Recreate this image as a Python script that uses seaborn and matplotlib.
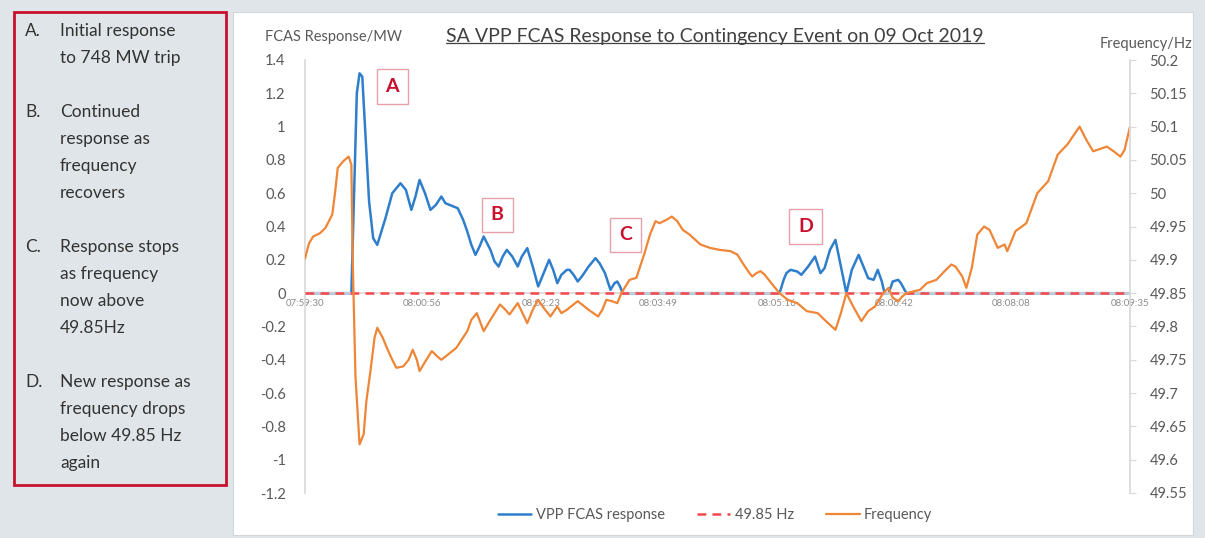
import numpy as np
import pandas as pd
import seaborn as sns
import matplotlib.pyplot as plt
from matplotlib.patches import Rectangle
from matplotlib.lines import Line2D
from matplotlib.ticker import FuncFormatter, MultipleLocator

# times are seconds after 07:59:30
resp_t = [0, 34, 36, 38, 40, 42, 44, 47, 50, 53, 59, 64, 70, 74, 78, 81, 84, 88, 92, 96,
          100, 103, 106, 112, 116, 119, 122, 125, 128, 131, 136, 139, 142, 145, 148,
          152, 156, 159, 163, 167, 171, 175, 179, 182, 185, 188, 192, 194, 197, 200,
          203, 208, 213, 216, 220, 224, 227, 229, 231, 233,
          348, 351, 353, 356, 361, 364, 369, 374, 378, 381, 385, 389, 392, 397, 401,
          406, 409, 413, 417, 420, 423, 425, 428, 431, 435, 437, 441, 605]
resp_mw = [0, 0, 0.6, 1.2, 1.32, 1.3, 1.0, 0.55, 0.33, 0.29, 0.45, 0.60, 0.66, 0.62, 0.50,
           0.58, 0.68, 0.60, 0.50, 0.53, 0.58, 0.54, 0.53, 0.51, 0.44, 0.37, 0.29, 0.23,
           0.28, 0.34, 0.26, 0.19, 0.16, 0.22, 0.26, 0.22, 0.16, 0.22, 0.27, 0.16, 0.04,
           0.12, 0.20, 0.14, 0.06, 0.11, 0.14, 0.14, 0.11, 0.07, 0.10, 0.16, 0.21, 0.18,
           0.12, 0.02, 0.06, 0.07, 0.04, 0,
           0, 0.08, 0.12, 0.14, 0.13, 0.11, 0.16, 0.22, 0.12, 0.15, 0.26, 0.32, 0.20, 0,
           0.14, 0.23, 0.17, 0.09, 0.08, 0.14, 0.07, 0, 0, 0.07, 0.08, 0.06, 0, 0]

freq_t = [0, 3, 6, 11, 15, 20, 22, 24, 28, 32, 34, 35, 37, 40, 43, 45, 48, 51, 53, 57,
          60, 64, 67, 72, 76, 79, 82, 84, 89, 93, 97, 100, 105, 111, 119, 122, 126, 131,
          136, 143, 147, 150, 156, 163, 167, 171, 175, 180, 185, 188, 192, 200, 208, 215,
          218, 221, 225, 229, 232, 238, 243, 249, 253, 257, 260, 265, 269, 273, 277, 282,
          290, 297, 304, 312, 317, 321, 326, 328, 331, 334, 337, 342, 348, 354, 361, 368,
          376, 382, 389, 393, 397, 402, 408, 413, 418, 424, 428, 431, 435, 438, 441, 451,
          456, 463, 469, 474, 477, 482, 485, 489, 493, 498, 502, 508, 513, 515, 521, 529,
          537, 545, 552, 559, 568, 573, 578, 588, 593, 598, 601, 605]
freq_hz = [49.902, 49.925, 49.935, 49.940, 49.948, 49.968, 50.000, 50.038, 50.048, 50.055,
           50.043, 49.900, 49.725, 49.623, 49.638, 49.688, 49.733, 49.783, 49.798, 49.783,
           49.768, 49.750, 49.738, 49.740, 49.750, 49.765, 49.750, 49.733, 49.750, 49.763,
           49.755, 49.750, 49.758, 49.768, 49.793, 49.810, 49.820, 49.793, 49.810, 49.833,
           49.825, 49.818, 49.835, 49.805, 49.825, 49.840, 49.828, 49.815, 49.830, 49.820,
           49.825, 49.838, 49.825, 49.815, 49.825, 49.840, 49.838, 49.835, 49.850, 49.870,
           49.873, 49.910, 49.938, 49.958, 49.955, 49.960, 49.965, 49.958, 49.945, 49.938,
           49.923, 49.918, 49.915, 49.913, 49.908, 49.895, 49.880, 49.875, 49.880, 49.883,
           49.878, 49.865, 49.850, 49.840, 49.835, 49.823, 49.820, 49.808, 49.795, 49.820,
           49.850, 49.830, 49.808, 49.823, 49.830, 49.850, 49.858, 49.843, 49.838, 49.845,
           49.850, 49.855, 49.865, 49.870, 49.883, 49.893, 49.890, 49.875, 49.858, 49.888,
           49.938, 49.950, 49.945, 49.918, 49.923, 49.913, 49.943, 49.955, 50.000, 50.018,
           50.058, 50.073, 50.100, 50.080, 50.063, 50.070, 50.063, 50.055, 50.065, 50.100]

thresh_t = [0, 605]
thresh_hz = [49.85, 49.85]

tick_labels = ['07:59:30', '08:00:56', '08:02:23', '08:03:49',
               '08:05:16', '08:06:42', '08:08:08', '08:09:35']

notes = [('A.', ['Initial response', 'to 748 MW trip']),
         ('B.', ['Continued', 'response as', 'frequency', 'recovers']),
         ('C.', ['Response stops', 'as frequency', 'now above', '49.85Hz']),
         ('D.', ['New response as', 'frequency drops', 'below 49.85 Hz', 'again'])]

# marker letters and where they sit (seconds, MW)
markers = [('A', 64, 1.24), ('B', 141, 0.47), ('C', 235, 0.35), ('D', 367, 0.40)]

def to_sec(s):
    h, m, x = [int(p) for p in s.split(':')]
    return h * 3600 + m * 60 + x

tick_pos = [to_sec(s) - to_sec(tick_labels[0]) for s in tick_labels]

resp = pd.DataFrame({'t': resp_t, 'mw': resp_mw})
freq = pd.DataFrame({'t': freq_t, 'hz': freq_hz})
thr = pd.DataFrame({'t': thresh_t, 'hz': thresh_hz})

sns.set_theme(style='white')
plt.rcParams['font.family'] = ['Lato', 'DejaVu Sans']
plt.rcParams['axes.unicode_minus'] = False

BLUE = '#2f7ecb'
ORANGE = '#ef8536'
RED = '#f5484c'
GREY_TXT = '#595959'
BG = '#dfe5e8'

W, H = 1205, 538
fig = plt.figure(figsize=(W / 100, H / 100), dpi=100)
fig.patch.set_facecolor(BG)

# white chart panel and the notes box
fig.patches.append(Rectangle((233 / W, 1 - 535 / H), 960 / W, 523 / H, transform=fig.transFigure,
                             facecolor='white', edgecolor='#d0d6d9', lw=0.8, zorder=-2))
fig.patches.append(Rectangle((14 / W, 1 - 485 / H), 212 / W, 473 / H, transform=fig.transFigure,
                             facecolor=BG, edgecolor='#c8102e', lw=2, zorder=-2))

y = 31
for letter, lines in notes:
    fig.text(25 / W, 1 - y / H, letter, fontsize=12.5, color='#333333', va='center')
    for ln in lines:
        fig.text(60 / W, 1 - y / H, ln, fontsize=12.5, color='#333333', va='center')
        y += 27
    y += 27

ax = fig.add_axes([305 / W, 1 - 493 / H, 825 / W, 433 / H])
ax.set_facecolor('none')
ax2 = ax.twinx()

sns.lineplot(data=resp, x='t', y='mw', ax=ax, color=BLUE, lw=1.8, estimator=None, sort=False,
             label='VPP FCAS response', legend=False)
sns.lineplot(data=thr, x='t', y='hz', ax=ax2, color=RED, lw=1.8, estimator=None,
             label='49.85 Hz', legend=False)
ax2.lines[-1].set_dashes([3.5, 2.5])
sns.lineplot(data=freq, x='t', y='hz', ax=ax2, color=ORANGE, lw=1.6, estimator=None, sort=False,
             label='Frequency', legend=False)

ax.set_xlim(0, 605)
ax.set_ylim(-1.2, 1.4)
ax2.set_ylim(49.55, 50.2)
ax.yaxis.set_major_locator(MultipleLocator(0.2))
ax2.yaxis.set_major_locator(MultipleLocator(0.05))
fmt = FuncFormatter(lambda v, p: '%g' % round(v, 2))
ax.yaxis.set_major_formatter(fmt)
ax2.yaxis.set_major_formatter(fmt)

ax.set_xticks(tick_pos)
ax.set_xticklabels(tick_labels)
ax.set_xlabel('')
ax.set_ylabel('')
ax2.set_ylabel('')

for a in (ax, ax2):
    for s in a.spines.values():
        s.set_visible(False)
ax.spines['left'].set_visible(True)
ax.spines['left'].set_color('#d9d9d9')
ax.spines['bottom'].set_visible(True)
ax.spines['bottom'].set_position(('data', 0))
ax.spines['bottom'].set_color('#d9d9d9')
ax2.spines['right'].set_visible(True)
ax2.spines['right'].set_color('#d9d9d9')

ax.tick_params(axis='y', length=0, pad=14, labelsize=10.5, labelcolor=GREY_TXT)
ax.tick_params(axis='x', length=0, pad=4, labelsize=7, labelcolor='#8c8c8c')
ax2.tick_params(axis='y', length=4, width=0.8, color='#d9d9d9', pad=10, labelsize=10.5,
                labelcolor=GREY_TXT)

for letter, t, v in markers:
    ax.text(t, v, letter, fontsize=14, fontweight='bold', color='#c8102e', ha='center', va='center',
            zorder=5, bbox=dict(boxstyle='square,pad=0.45', fc='white', ec='#e8a0a9', lw=1))

fig.text(265 / W, 1 - 37 / H, 'FCAS Response/MW', fontsize=10.5, color=GREY_TXT, va='center')
fig.text(1192 / W, 1 - 44 / H, 'Frequency/Hz', fontsize=10.5, color=GREY_TXT, va='center', ha='right')
title = fig.text(715 / W, 1 - 37 / H, 'SA VPP FCAS Response to Contingency Event on 09 Oct 2019',
                 fontsize=14, color='#404040', ha='center', va='center')

h1, l1 = ax.get_legend_handles_labels()
h2, l2 = ax2.get_legend_handles_labels()
fig.legend(h1 + h2, l1 + l2, loc='center', bbox_to_anchor=(715 / W, 1 - 515 / H), ncol=3,
           frameon=False, fontsize=10.5, labelcolor=GREY_TXT, handlelength=2.3,
           columnspacing=2.2, handletextpad=0.3)

# underline the title
fig.canvas.draw()
bb = title.get_window_extent(fig.canvas.get_renderer()).transformed(fig.transFigure.inverted())
fig.add_artist(Line2D([bb.x0, bb.x1], [bb.y0 + 0.004, bb.y0 + 0.004], transform=fig.transFigure,
                      color='#404040', lw=0.9))

fig.savefig('out.png', dpi=100, facecolor=fig.get_facecolor())
